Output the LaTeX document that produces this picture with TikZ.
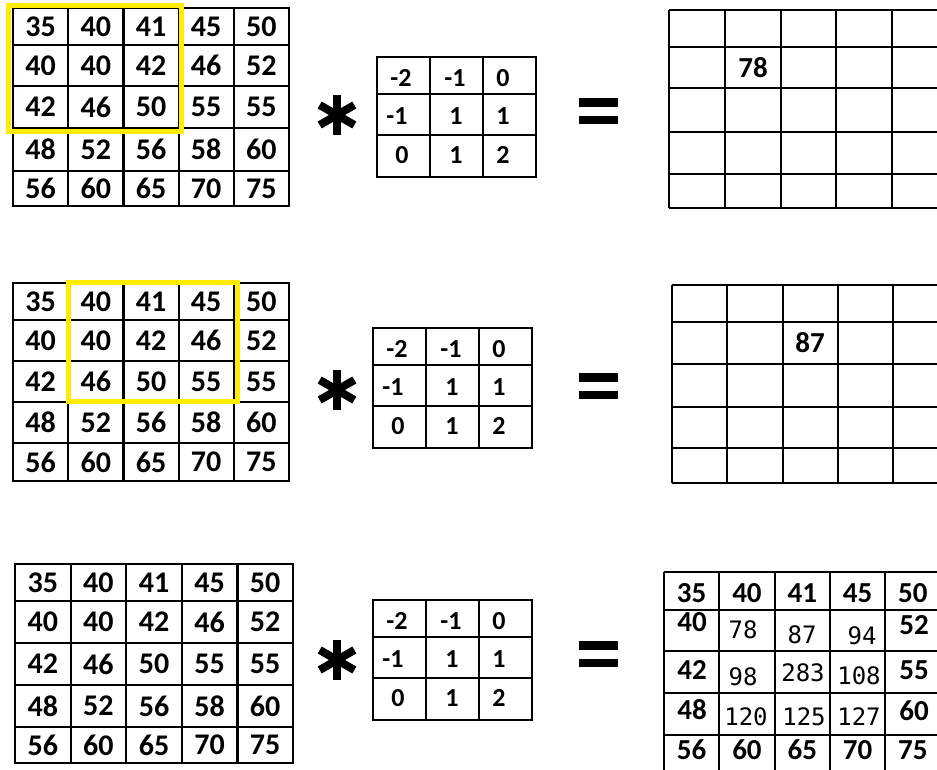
\documentclass[tikz,border=0pt]{standalone}
\usepackage{fontspec}
\newfontfamily\calib{Carlito}
\newfontfamily\consol{DejaVu Sans Mono}
\usepackage{xcolor}
\usepackage{tikz}
\definecolor{marker}{RGB}{255,236,0}
\tikzset{
  gridline/.style={line width=2.2pt},
  kernline/.style={line width=2pt},
  num/.style={font=\calib\bfseries\fontsize{30}{32}\selectfont,inner sep=0pt},
  rnum/.style={font=\calib\bfseries\fontsize{29}{31}\selectfont,inner sep=0pt},
  knum/.style={font=\calib\bfseries\fontsize{26}{28}\selectfont,inner sep=0pt},
  mnum/.style={font=\consol\fontsize{24}{26}\selectfont,inner sep=0pt},
  window/.style={draw=marker,line width=5pt},
  astarm/.style={line width=8pt},
  eqbar/.style={fill=black}
}
% #1 name, #2 column width, #3 row centres
\newcommand{\numgrid}[3]{%
  \foreach \row [count=\r] in {{35,40,41,45,50},{40,40,42,46,52},{42,46,50,55,55},{48,52,56,58,60},{56,60,65,70,75}} {
    \pgfmathsetmacro{\rowy}{{#3}[\r-1]}
    \foreach \v [count=\c] in \row
      \node[num] (#1-\r-\c) at ({#2*(\c-0.5)},\rowy) {\v};
  }}
% #1 name
\newcommand{\kernelgrid}[1]{%
  \draw[kernline] (0,0) rectangle (159,120);
  \foreach \gx in {53,106} \draw[kernline] (\gx,0) -- (\gx,120);
  \foreach \gy in {37,78} \draw[kernline] (0,\gy) -- (159,\gy);
  \node[knum] (#1-1-1) at (24,21) {-2};
  \node[knum] (#1-1-2) at (78,21) {-1};
  \node[knum] (#1-1-3) at (126,21) {0};
  \node[knum] (#1-2-1) at (20,59) {-1};
  \node[knum] (#1-2-2) at (79,59) {1};
  \node[knum] (#1-2-3) at (126,59) {1};
  \node[knum] (#1-3-1) at (25,98) {0};
  \node[knum] (#1-3-2) at (79,98) {1};
  \node[knum] (#1-3-3) at (126,98) {2};
}
% #1 x of column lines, #2 y of row lines
\newcommand{\emptygrid}[2]{%
  \foreach \gx in {#1} \draw[gridline] (\gx,0) -- (\gx,198);
  \foreach \gy in {#2} \draw[gridline] (0,\gy) -- (280,\gy);
}

\begin{document}
\begin{tikzpicture}[x=1pt,y=-1pt]
\useasboundingbox (0,0) rectangle (937,769);
\fill[white] (0,0) rectangle (937,769);
\clip (0,0) rectangle (937,769);

% first step
\begin{scope}[shift={(13,8)}]
\draw[gridline] (0,0) rectangle (276,198);
\foreach \i in {1,...,4} \draw[gridline] (55.2*\i,0) -- (55.2*\i,198);
\foreach \gy in {37,78,120,163} \draw[gridline] (0,\gy) -- (276,\gy);
\numgrid{img1}{55.2}{18.5,57.5,99,141.5,180.5}
\draw[window] (-5,-3) rectangle (168,123);
\end{scope}
\begin{scope}[shift={(377,57)}]
\kernelgrid{ker1}
\end{scope}
\begin{scope}[shift={(669,10)}]
\emptygrid{0,56,112,167,223}{0,37,78,122,164,198}
\node[rnum] (res1-2-2) at (84,58) {78};
\end{scope}

% second step
\begin{scope}[shift={(13,283)}]
\draw[gridline] (0,0) rectangle (276,198);
\foreach \i in {1,...,4} \draw[gridline] (55.2*\i,0) -- (55.2*\i,198);
\foreach \gy in {37,78,119,160} \draw[gridline] (0,\gy) -- (276,\gy);
\numgrid{img2}{55.2}{18.5,57.5,98.5,139.5,179}
\draw[window] (55,-1) rectangle (224,118);
\end{scope}
\begin{scope}[shift={(373,328)}]
\kernelgrid{ker2}
\end{scope}
\begin{scope}[shift={(672,285)}]
\emptygrid{0,55,111,166,221}{0,37,79,122,163,198}
\node[rnum] (res2-2-3) at (138,58) {87};
\end{scope}

% result
\begin{scope}[shift={(15,564)}]
\draw[gridline] (0,0) rectangle (278,199);
\foreach \i in {1,...,4} \draw[gridline] (55.6*\i,0) -- (55.6*\i,199);
\foreach \gy in {37,79,121,163} \draw[gridline] (0,\gy) -- (278,\gy);
\numgrid{img3}{55.6}{18.5,58,100,142,181}
\end{scope}
\begin{scope}[shift={(373,600)}]
\kernelgrid{ker3}
\end{scope}
\begin{scope}[shift={(664,572)}]
\foreach \gx in {0,55,111,166,221} \draw[gridline] (\gx,0) -- (\gx,205);
\foreach \gy in {0,38,79,121,163} \draw[gridline] (0,\gy) -- (280,\gy);
\foreach \v [count=\c] in {35,40,41,45,50}
  \node[rnum] (res3-1-\c) at ({55.3*(\c-0.5)},21) {\v};
\foreach \v [count=\c] in {56,60,65,70,75}
  \node[rnum] (res3-5-\c) at ({55.3*(\c-0.5)},178) {\v};
\node[rnum] (res3-2-1) at (28,50) {40};
\node[rnum] (res3-3-1) at (28,98) {42};
\node[rnum] (res3-4-1) at (28,138) {48};
\node[rnum] (res3-2-5) at (250,53) {52};
\node[rnum] (res3-3-5) at (250,98) {55};
\node[rnum] (res3-4-5) at (250,139) {60};
\node[mnum] (res3-2-2) at (79,58) {78};
\node[mnum] (res3-2-3) at (138,63) {87};
\node[mnum] (res3-2-4) at (198,64) {94};
\node[mnum] (res3-3-2) at (79,105) {98};
\node[mnum] (res3-3-3) at (139,101) {283};
\node[mnum] (res3-3-4) at (195,104) {108};
\node[mnum] (res3-4-2) at (82,145) {120};
\node[mnum] (res3-4-3) at (140,145) {125};
\node[mnum] (res3-4-4) at (195,145) {127};
\end{scope}

% operators
\foreach \oy [count=\k] in {115,390,660} {
  \coordinate (ast\k) at (337,\oy);
  \draw[astarm] ([shift={(0,-20)}]ast\k) -- ([shift={(0,20)}]ast\k);
  \draw[astarm] ([shift={(30:20)}]ast\k) -- ([shift={(210:20)}]ast\k);
  \draw[astarm] ([shift={(150:20)}]ast\k) -- ([shift={(330:20)}]ast\k);
}
\foreach \oy [count=\k] in {98,373,641} {
  \coordinate (eq\k) at (579,\oy);
  \fill[eqbar] (eq\k) rectangle ++(39,9);
  \fill[eqbar] ([yshift=-18pt]eq\k) rectangle ++(39,8);
}
\end{tikzpicture}
\end{document}
